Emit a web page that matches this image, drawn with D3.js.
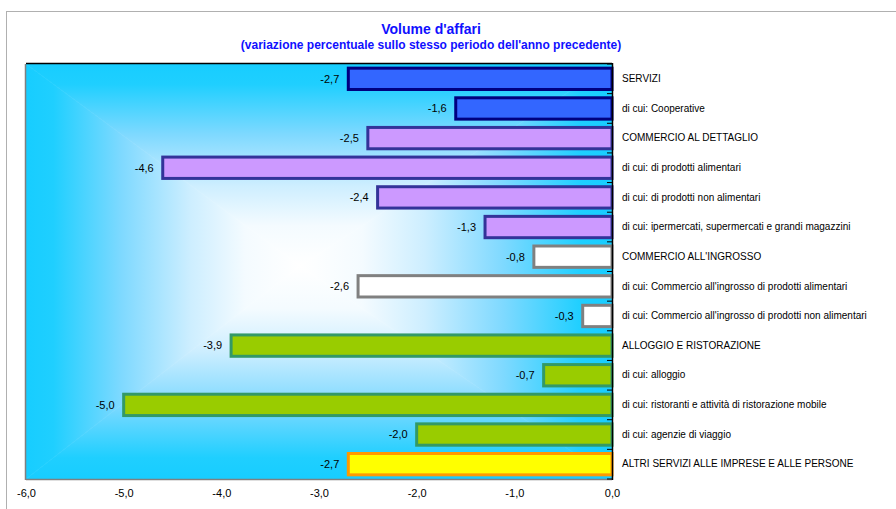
<!DOCTYPE html>
<html><head><meta charset="utf-8">
<script src="https://cdn.jsdelivr.net/npm/d3@7"></script>
<style>body{margin:0;background:#fff}svg{display:block}</style>
</head><body>
<svg id="c" width="896" height="509"></svg>
<script>
const categories = [
  "SERVIZI",
  "di cui: Cooperative",
  "COMMERCIO AL DETTAGLIO",
  "di cui: di prodotti alimentari",
  "di cui: di prodotti non alimentari",
  "di cui: ipermercati, supermercati e grandi magazzini",
  "COMMERCIO ALL'INGROSSO",
  "di cui: Commercio all'ingrosso di prodotti alimentari",
  "di cui: Commercio all'ingrosso di prodotti non alimentari",
  "ALLOGGIO E RISTORAZIONE",
  "di cui: alloggio",
  "di cui: ristoranti e attività di ristorazione mobile",
  "di cui: agenzie di viaggio",
  "ALTRI SERVIZI ALLE IMPRESE E ALLE PERSONE"
];
const values = [-2.7, -1.6, -2.5, -4.6, -2.4, -1.3, -0.8, -2.6, -0.3, -3.9, -0.7, -5.0, -2.0, -2.7];
const groups = ["srv","srv","det","det","det","det","ing","ing","ing","all","all","all","all","alt"];
const xTicks = [-6, -5, -4, -3, -2, -1, 0];
const title = "Volume d'affari";
const subtitle = "(variazione percentuale sullo stesso periodo dell'anno precedente)";

const fills = {srv:"#3366ff", det:"#cc99ff", ing:"#ffffff", all:"#99cc00", alt:"#ffff00"};
const strokes = {srv:"#000080", det:"#333399", ing:"#808080", all:"#339966", alt:"#ff9900"};

const svg = d3.select("#c");
const L = 26, R = 612, T = 64, B = 479;
const x = d3.scaleLinear().domain([-6, 0]).range([L, R]);
const y = d3.scaleBand().domain(categories).range([T, B]).paddingInner(0.28).paddingOuter(0.14);
const fmt = v => d3.format(".1f")(v).replace(".", ",").replace("−", "-");

// outer frame
svg.append("rect").attr("x", 6.5).attr("y", 11.5).attr("width", 900).attr("height", 520)
  .attr("fill", "none").attr("stroke", "#b0b0b0").attr("stroke-width", 1);

// title
svg.append("text").attr("x", 431).attr("y", 34).attr("text-anchor", "middle")
  .attr("font-family", "Liberation Sans, Arial, sans-serif").attr("font-weight", "bold")
  .attr("font-size", 14).attr("fill", "#1010ff").text(title);
svg.append("text").attr("x", 431).attr("y", 49).attr("text-anchor", "middle")
  .attr("font-family", "Liberation Sans, Arial, sans-serif").attr("font-weight", "bold")
  .attr("font-size", 12).attr("fill", "#1010ff").text(subtitle);

// background: rectangular "from center" gradient using 4 triangles
const defs = svg.append("defs");
const cx = 300, cy = 266;
const stops = [[0, "#17cdff"], [0.1, "#1fcfff"], [0.35, "#7fd9ff"], [0.6, "#cdeeff"], [0.8, "#f4fbff"], [1, "#ffffff"]];
function grad(id, x1, y1, x2, y2) {
  const g = defs.append("linearGradient").attr("id", id).attr("gradientUnits", "userSpaceOnUse")
    .attr("x1", x1).attr("y1", y1).attr("x2", x2).attr("y2", y2);
  stops.forEach(s => g.append("stop").attr("offset", s[0]).attr("stop-color", s[1]));
}
grad("gT", cx, T, cx, cy);
grad("gB", cx, B, cx, cy);
grad("gL", L, cy, cx, cy);
grad("gR", R, cy, cx, cy);
const tri = [
  {pts: [[L, T], [R, T], [cx, cy]], g: "gT"},
  {pts: [[L, B], [R, B], [cx, cy]], g: "gB"},
  {pts: [[L, T], [L, B], [cx, cy]], g: "gL"},
  {pts: [[R, T], [R, B], [cx, cy]], g: "gR"}
];
svg.append("g").selectAll("polygon").data(tri).join("polygon")
  .attr("points", d => d.pts.map(p => p.join(",")).join(" "))
  .attr("fill", d => `url(#${d.g})`).attr("stroke", d => `url(#${d.g})`).attr("stroke-width", 0.6);

// plot borders
svg.append("line").attr("x1", L).attr("x2", R).attr("y1", T - 0.5).attr("y2", T - 0.5).attr("stroke", "#000").attr("stroke-width", 1.5);
svg.append("line").attr("x1", L - 0.5).attr("x2", L - 0.5).attr("y1", T).attr("y2", B + 1).attr("stroke", "#808080").attr("stroke-width", 1.5);
svg.append("line").attr("x1", L).attr("x2", R).attr("y1", B + 0.5).attr("y2", B + 0.5).attr("stroke", "#808080").attr("stroke-width", 1.5);

// bars
svg.append("g").selectAll("rect").data(values).join("rect")
  .attr("x", d => x(d)).attr("y", (d, i) => y(categories[i]))
  .attr("width", d => x(0) - x(d)).attr("height", y.bandwidth())
  .attr("fill", (d, i) => fills[groups[i]]).attr("stroke", (d, i) => strokes[groups[i]])
  .attr("stroke-width", 3);

// value labels
svg.append("g").selectAll("text").data(values).join("text")
  .attr("x", d => x(d) - 9).attr("y", (d, i) => y(categories[i]) + y.bandwidth() / 2)
  .attr("dy", "0.35em").attr("text-anchor", "end")
  .attr("font-family", "Liberation Sans, Arial, sans-serif").attr("font-size", 11).attr("fill", "#000")
  .text(d => fmt(d));

// y axis at zero with category labels
const yAxis = d3.axisRight(y).tickSize(0).tickPadding(10);
const ya = svg.append("g").attr("transform", `translate(${x(0)},0)`).call(yAxis);
ya.select(".domain").remove();
ya.selectAll("text").attr("font-family", "Liberation Sans, Arial, sans-serif").attr("font-size", 10).attr("fill", "#000");
// boundary ticks pointing inward
const bounds = d3.range(categories.length + 1).map(i => T + i * (B - T) / categories.length);
svg.append("g").selectAll("line").data(bounds).join("line")
  .attr("x1", x(0) - 5).attr("x2", x(0)).attr("y1", d => d).attr("y2", d => d)
  .attr("stroke", "#000").attr("stroke-width", 1);
svg.append("line").attr("x1", x(0) + 0.5).attr("x2", x(0) + 0.5).attr("y1", T - 1).attr("y2", B + 1)
  .attr("stroke", "#000").attr("stroke-width", 1.5);

// x axis labels
const xAxis = d3.axisBottom(x).tickValues(xTicks).tickSize(0).tickPadding(10).tickFormat(fmt);
const xa = svg.append("g").attr("transform", `translate(0,${B})`).call(xAxis);
xa.select(".domain").remove();
xa.selectAll("text").attr("font-family", "Liberation Sans, Arial, sans-serif").attr("font-size", 11).attr("fill", "#000");
</script>
</body></html>
